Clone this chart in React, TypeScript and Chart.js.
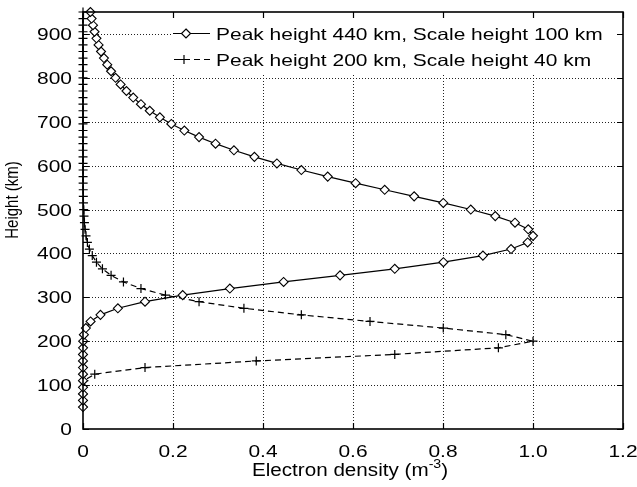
import React, { useEffect, useRef } from 'react';
import { Chart, registerables } from 'chart.js';

Chart.register(...registerables);

// Height samples (km)
const HEIGHTS_KM = [
  50, 65, 80, 95, 110, 125, 140, 155, 170, 185, 200, 215, 230, 245, 260, 275, 290, 305, 320, 335,
  350, 365, 380, 395, 410, 425, 440, 455, 470, 485, 500, 515, 530, 545, 560, 575, 590, 605, 620, 635,
  650, 665, 680, 695, 710, 725, 740, 755, 770, 785, 800, 815, 830, 845, 860, 875, 890, 905, 920, 935,
  950,
];

// Normalised electron density, peak 440 km, scale height 100 km
const DENSITY_PEAK440 = [
  0, 0, 0, 0, 0, 0, 0, 0, 0, 0.0001, 0.0005, 0.002, 0.0063, 0.0169, 0.0388, 0.0775, 0.1378, 0.2215, 0.3263, 0.4458,
  0.5712, 0.6928, 0.8009, 0.8887, 0.9512, 0.9881, 1.0, 0.9894, 0.96, 0.9161, 0.8617, 0.8006, 0.7359, 0.6704, 0.6058, 0.5438, 0.4852, 0.4309, 0.3809, 0.3354,
  0.2945, 0.2579, 0.2252, 0.1963, 0.1708, 0.1484, 0.1288, 0.1116, 0.0966, 0.0836, 0.0723, 0.0624, 0.0539, 0.0465, 0.0401, 0.0346, 0.0299, 0.0257, 0.0222, 0.0191,
  0.0165,
];

// Normalised electron density, peak 200 km, scale height 40 km
const DENSITY_PEAK200 = [
  0, 0, 0, 0, 0.002, 0.0261, 0.1378, 0.385, 0.6928, 0.9231, 1.0, 0.9396, 0.8006, 0.6378, 0.4852, 0.3576, 0.2579, 0.1832, 0.1288, 0.0899,
  0.0624, 0.0432, 0.0299, 0.0206, 0.0142, 0.0098, 0.0067, 0.0046, 0.0032, 0.0022, 0.0015, 0.001, 0.0007, 0.0005, 0.0003, 0.0002, 0.0002, 0.0001, 0.0001, 0,
  0, 0, 0, 0, 0, 0, 0, 0, 0, 0, 0, 0, 0, 0, 0, 0, 0, 0, 0, 0,
  0,
];

const X_TICKS = [0, 0.2, 0.4, 0.6, 0.8, 1.0, 1.2];
const X_TICK_LABELS = ['0', '0.2', '0.4', '0.6', '0.8', '1.0', '1.2'];
const Y_TICKS = [0, 100, 200, 300, 400, 500, 600, 700, 800, 900];
const Y_TICK_LABELS = ['0', '100', '200', '300', '400', '500', '600', '700', '800', '900'];
const SERIES_LABELS = [
  'Peak height 440 km, Scale height 100 km',
  'Peak height 200 km, Scale height 40 km',
];
const X_TITLE = 'Electron density (m';
const X_TITLE_SUP = '-3';
const X_TITLE_END = ')';
const Y_TITLE = 'Height (km)';

const FONT = '"Liberation Sans", Arial, Helvetica, sans-serif';

function stretchedText(
  ctx: CanvasRenderingContext2D,
  text: string,
  x: number,
  y: number,
  size: number,
  align: CanvasTextAlign,
  sx: number
) {
  ctx.save();
  ctx.translate(x, y);
  ctx.scale(sx, 1);
  ctx.font = `${size}px ${FONT}`;
  ctx.textAlign = align;
  ctx.textBaseline = 'alphabetic';
  ctx.fillStyle = '#000';
  ctx.fillText(text, 0, 0);
  ctx.restore();
}

function drawDiamond(ctx: CanvasRenderingContext2D, x: number, y: number, r: number) {
  ctx.beginPath();
  ctx.moveTo(x, y - r);
  ctx.lineTo(x + r, y);
  ctx.lineTo(x, y + r);
  ctx.lineTo(x - r, y);
  ctx.closePath();
  ctx.fillStyle = '#fff';
  ctx.fill();
  ctx.stroke();
}

function drawCross(ctx: CanvasRenderingContext2D, x: number, y: number, r: number) {
  ctx.beginPath();
  ctx.moveTo(x - r, y);
  ctx.lineTo(x + r, y);
  ctx.moveTo(x, y - r);
  ctx.lineTo(x, y + r);
  ctx.stroke();
}

const TEXT_SIZE = 16.5;
const TEXT_SX = 1.27;

const decorPlugin = {
  id: 'decor',
  beforeDatasetsDraw(chart: any) {
    const { ctx, chartArea: a, scales } = chart;
    const xs = scales.x;
    const ys = scales.y;
    ctx.save();
    ctx.strokeStyle = '#222';
    ctx.lineWidth = 1;
    ctx.setLineDash([1, 2]);
    X_TICKS.forEach((v) => {
      if (v <= 0 || v >= 1.2) return;
      const px = Math.round(xs.getPixelForValue(v)) + 0.5;
      ctx.beginPath();
      ctx.moveTo(px, a.top);
      ctx.lineTo(px, a.bottom);
      ctx.stroke();
    });
    Y_TICKS.forEach((v) => {
      if (v <= 0) return;
      const py = Math.round(ys.getPixelForValue(v)) + 0.5;
      ctx.beginPath();
      ctx.moveTo(a.left, py);
      ctx.lineTo(a.right, py);
      ctx.stroke();
    });
    ctx.restore();
  },
  afterDatasetsDraw(chart: any) {
    const { ctx, chartArea: a } = chart;
    // legend box
    ctx.save();
    ctx.fillStyle = '#fff';
    ctx.fillRect(172, a.top + 1, a.right - 172 - 4, 62);
    ctx.strokeStyle = '#000';
    ctx.lineWidth = 1.2;
    const rows = [33.5, 59.5];
    // row 1: solid with diamond
    ctx.setLineDash([]);
    ctx.beginPath();
    ctx.moveTo(173, rows[0]);
    ctx.lineTo(210, rows[0]);
    ctx.stroke();
    drawDiamond(ctx, 186, rows[0], 4.5);
    // row 2: dashed with cross
    ctx.setLineDash([6, 4]);
    ctx.beginPath();
    ctx.moveTo(174, rows[1]);
    ctx.lineTo(210, rows[1]);
    ctx.stroke();
    ctx.setLineDash([]);
    drawCross(ctx, 184, rows[1], 4.5);
    stretchedText(ctx, SERIES_LABELS[0], 216, rows[0] + 6, TEXT_SIZE, 'left', TEXT_SX);
    stretchedText(ctx, SERIES_LABELS[1], 216, rows[1] + 6, TEXT_SIZE, 'left', TEXT_SX);
    ctx.restore();
  },
  afterDraw(chart: any) {
    const { ctx, chartArea: a, scales } = chart;
    const xs = scales.x;
    const ys = scales.y;
    ctx.save();
    ctx.setLineDash([]);
    ctx.strokeStyle = '#000';
    // frame
    ctx.lineWidth = 1.6;
    ctx.strokeRect(a.left, a.top, a.right - a.left, a.bottom - a.top);
    // inward ticks
    ctx.lineWidth = 1.2;
    const TL = 6;
    X_TICKS.forEach((v) => {
      const px = Math.round(xs.getPixelForValue(v)) + 0.5;
      ctx.beginPath();
      ctx.moveTo(px, a.bottom);
      ctx.lineTo(px, a.bottom - TL);
      ctx.moveTo(px, a.top);
      ctx.lineTo(px, a.top + TL);
      ctx.stroke();
    });
    Y_TICKS.forEach((v) => {
      const py = Math.round(ys.getPixelForValue(v)) + 0.5;
      ctx.beginPath();
      ctx.moveTo(a.left, py);
      ctx.lineTo(a.left + TL, py);
      ctx.moveTo(a.right, py);
      ctx.lineTo(a.right - TL, py);
      ctx.stroke();
    });
    // tick labels
    X_TICKS.forEach((v, i) => {
      const px = xs.getPixelForValue(v);
      stretchedText(ctx, X_TICK_LABELS[i], px, 457, TEXT_SIZE, 'center', TEXT_SX);
    });
    Y_TICKS.forEach((v, i) => {
      const py = ys.getPixelForValue(v);
      stretchedText(ctx, Y_TICK_LABELS[i], 72, py + 6, TEXT_SIZE, 'right', TEXT_SX);
    });
    // x title with superscript
    const tSize = 17.5;
    const tSx = 1.18;
    const supSize = 12;
    ctx.font = `${tSize}px ${FONT}`;
    const w1 = ctx.measureText(X_TITLE).width * tSx;
    const w3 = ctx.measureText(X_TITLE_END).width * tSx;
    ctx.font = `${supSize}px ${FONT}`;
    const w2 = ctx.measureText(X_TITLE_SUP).width * tSx;
    const total = w1 + w2 + w3;
    const cx = (a.left + a.right) / 2 - 3;
    const sx0 = cx - total / 2;
    const base = 476;
    stretchedText(ctx, X_TITLE, sx0, base, tSize, 'left', tSx);
    stretchedText(ctx, X_TITLE_SUP, sx0 + w1, base - 8, supSize, 'left', tSx);
    stretchedText(ctx, X_TITLE_END, sx0 + w1 + w2, base, tSize, 'left', tSx);
    // y title (rotated)
    ctx.save();
    ctx.translate(18, 200);
    ctx.rotate(-Math.PI / 2);
    ctx.scale(1, 1.25);
    ctx.font = `15px ${FONT}`;
    ctx.textAlign = 'center';
    ctx.textBaseline = 'alphabetic';
    ctx.fillStyle = '#000';
    ctx.fillText(Y_TITLE, 0, 0);
    ctx.restore();
    ctx.restore();
  },
};

export default function App() {
  const canvasRef = useRef<HTMLCanvasElement | null>(null);

  useEffect(() => {
    document.body.style.margin = '0';
    const canvas = canvasRef.current;
    if (!canvas) return;
    const chart = new Chart(canvas, {
      type: 'scatter',
      data: {
        datasets: [
          {
            label: SERIES_LABELS[0],
            data: HEIGHTS_KM.map((h, i) => ({ x: DENSITY_PEAK440[i], y: h })),
            showLine: true,
            borderColor: '#000',
            borderWidth: 1.2,
            pointStyle: 'rectRot',
            pointRadius: 4.5,
            pointBackgroundColor: '#fff',
            pointBorderColor: '#000',
            pointBorderWidth: 1.1,
            clip: false,
          } as any,
          {
            label: SERIES_LABELS[1],
            data: HEIGHTS_KM.map((h, i) => ({ x: DENSITY_PEAK200[i], y: h })),
            showLine: true,
            borderColor: '#000',
            borderWidth: 1.2,
            borderDash: [6, 4],
            pointStyle: 'cross',
            pointRadius: 4.5,
            pointBorderColor: '#000',
            pointBorderWidth: 1.2,
            clip: false,
          } as any,
        ],
      },
      options: {
        responsive: false,
        animation: false,
        devicePixelRatio: 1,
        layout: { padding: { top: 12, right: 14, left: 0, bottom: 0 } },
        plugins: { legend: { display: false }, tooltip: { enabled: false } },
        scales: {
          x: {
            type: 'linear',
            min: 0,
            max: 1.2,
            grid: { display: false, drawTicks: false },
            border: { display: false },
            ticks: { display: false },
            afterBuildTicks: (s: any) => {
              s.ticks = X_TICKS.map((v) => ({ value: v }));
            },
            afterFit: (s: any) => {
              s.height = 58;
            },
          },
          y: {
            type: 'linear',
            min: 0,
            max: 950,
            grid: { display: false, drawTicks: false },
            border: { display: false },
            ticks: { display: false },
            afterBuildTicks: (s: any) => {
              s.ticks = Y_TICKS.map((v) => ({ value: v }));
            },
            afterFit: (s: any) => {
              s.width = 83;
            },
          },
        },
      },
      plugins: [decorPlugin],
    });
    return () => chart.destroy();
  }, []);

  return (
    <div style={{ position: 'absolute', left: 0, top: 0, width: 637, height: 487, background: '#fff' }}>
      <canvas ref={canvasRef} width={637} height={487} />
    </div>
  );
}
